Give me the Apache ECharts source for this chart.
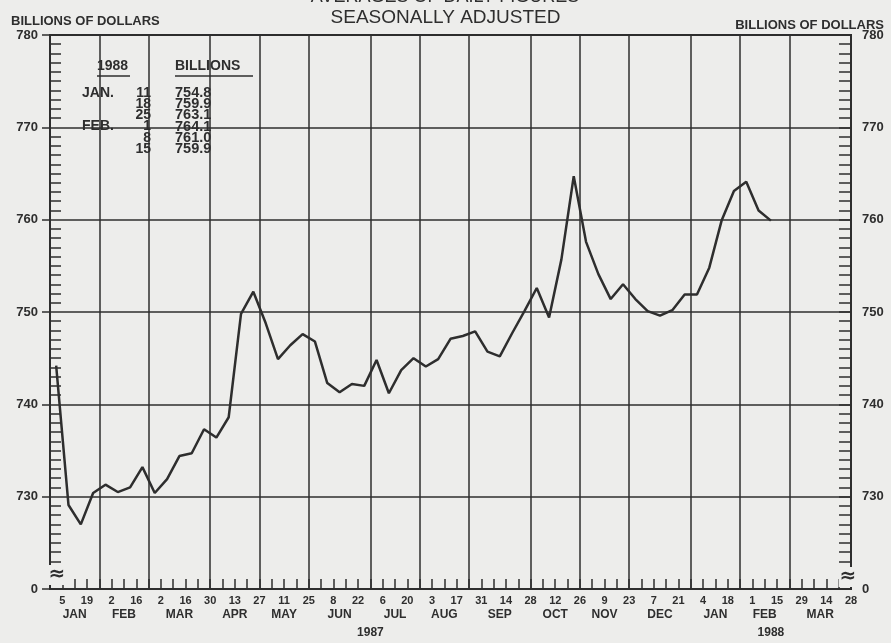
<!DOCTYPE html>
<html>
<head>
<meta charset="utf-8">
<title>Money stock M1</title>
<script src="https://cdn.jsdelivr.net/npm/echarts@6/dist/echarts.min.js"></script>
<style>
  html, body { margin: 0; padding: 0; background: #ededeb; }
  #chart { width: 891px; height: 643px; }
</style>
</head>
<body>
<div id="chart"></div>
<script>
// weekly M1, billions of dollars, week of Jan 5 1987 .. Feb 15 1988
var m1Values = [
	744.2, 729.1, 727.0, 730.4, 731.3, 730.5, 731.0, 733.2, 730.4, 731.9,
	734.4, 734.7, 737.3, 736.4, 738.6, 749.8, 752.2, 748.8, 744.9, 746.4,
	747.6, 746.8, 742.3, 741.3, 742.2, 742.0, 744.8, 741.2, 743.7, 745.0,
	744.1, 744.9, 747.1, 747.4, 747.9, 745.7, 745.2, 747.7, 750.1, 752.6,
	749.4, 755.7, 764.7, 757.6, 754.1, 751.4, 753.0, 751.4, 750.1, 749.6,
	750.2, 751.9, 751.9, 754.8, 759.9, 763.1, 764.1, 761.0, 759.9
];

// day labels on every other week (weeks 1,3,5..65 from Dec 29 1986)
var dayLabels = ['5','19','2','16','2','16','30','13','27','11','25','8','22','6','20','3','17',
	'31','14','28','12','26','9','23','7','21','4','18','1','15','29','14','28'];
var monthNames = ['JAN','FEB','MAR','APR','MAY','JUN','JUL','AUG','SEP','OCT','NOV','DEC','JAN','FEB','MAR'];
// month boundaries in weeks (4-4-5 pattern)
var periodBounds = [0, 4, 8, 13, 17, 21, 26, 30, 34, 39, 43, 47, 52, 56, 60, 65];
var yearNames = ['1987', '1988'];
var yearWeeks = [26, 58.5];

// inset table
var tableMonths = ['JAN.', '', '', 'FEB.', '', ''];
var tableDays = ['11', '18', '25', '1', '8', '15'];
var tableValues = ['754.8', '759.9', '763.1', '764.1', '761.0', '759.9'];

var ink = '#2e2e2e';
var paper = '#ededeb';
var font = 'Liberation Sans';

var myChart = echarts.init(document.getElementById('chart'));

var lineData = [];
for (var i = 0; i < m1Values.length; i++) {
	lineData.push([i + 0.5, m1Values[i]]);
}

var monthAt = {};
for (var i = 0; i < monthNames.length; i++) {
	monthAt[(periodBounds[i] + periodBounds[i + 1]) / 2] = monthNames[i];
}

var boundLines = [];
for (var i = 1; i < periodBounds.length - 1; i++) {
	boundLines.push({ xAxis: periodBounds[i] });
}

function txt(x, y, s, size, align, weight) {
	return {
		type: 'text', x: x, y: y,
		style: {
			text: s, fontSize: size, fontWeight: weight || 'bold', fontFamily: font,
			fill: ink, align: align || 'left', verticalAlign: 'middle'
		}
	};
}

// table text
var tableEls = [
	{ type: 'rect', shape: { x: 74, y: 52, width: 184, height: 103 }, style: { fill: paper } },
	txt(97, 66, '1988', 14),
	{ type: 'line', shape: { x1: 97, y1: 76, x2: 130, y2: 76 }, style: { stroke: ink, lineWidth: 1.5 } },
	txt(175, 66, 'BILLIONS', 14),
	{ type: 'line', shape: { x1: 175, y1: 76, x2: 253, y2: 76 }, style: { stroke: ink, lineWidth: 1.5 } }
];
for (var i = 0; i < tableDays.length; i++) {
	var ty = 93 + i * 11.2;
	tableEls.push(txt(82, ty, tableMonths[i], 14));
	tableEls.push(txt(151, ty, tableDays[i], 14, 'right'));
	tableEls.push(txt(175, ty, tableValues[i], 14.5));
}

// axis break marks
function breakMark(x, y) {
	return {
		type: 'text', x: x, y: y, z: 100,
		style: {
			text: '\u2248', fontSize: 20, fontWeight: 'bold', fontFamily: 'DejaVu Sans',
			fill: ink, align: 'center', verticalAlign: 'middle',
			backgroundColor: paper, padding: [0, 1]
		}
	};
}

var axisFont = { fontFamily: font, fontWeight: 'bold', color: ink };

option = {
	backgroundColor: paper,
	animation: false,
	title: [
		{ text: 'SEASONALLY ADJUSTED', left: 'center', top: 3,
			textStyle: { fontFamily: font, fontSize: 19, fontWeight: 'normal', color: ink } },
		{ text: 'BILLIONS OF DOLLARS', left: 6, top: 10,
			textStyle: { fontFamily: font, fontSize: 13, fontWeight: 'bold', color: ink } },
		{ text: 'BILLIONS OF DOLLARS', right: 2, top: 14,
			textStyle: { fontFamily: font, fontSize: 13, fontWeight: 'bold', color: ink } }
	],
	grid: {
		left: 50, right: 40, top: 35, bottom: 54,
		show: true, borderColor: ink, borderWidth: 2, backgroundColor: 'transparent'
	},
	xAxis: [
		{
			type: 'value', min: 0, max: 65, interval: 1, position: 'bottom',
			axisLine: { show: true, onZero: false, lineStyle: { color: ink, width: 2 } },
			axisTick: { show: true, inside: true, length: 10, lineStyle: { color: ink, width: 1.5 } },
			axisLabel: Object.assign({
				fontSize: 11, margin: 6,
				formatter: function(v) {
					return (v % 2 === 1) ? dayLabels[(v - 1) / 2] : '';
				}
			}, axisFont),
			splitLine: { show: false }
		},
		{
			type: 'value', min: 0, max: 65, interval: 0.5, position: 'bottom',
			axisLine: { show: false }, axisTick: { show: false }, splitLine: { show: false },
			axisLabel: Object.assign({
				fontSize: 12, margin: 20,
				formatter: function(v) { return monthAt[v] || ''; }
			}, axisFont)
		},
		{
			type: 'value', min: 0, max: 65, interval: 0.5, position: 'bottom',
			axisLine: { show: false }, axisTick: { show: false }, splitLine: { show: false },
			axisLabel: Object.assign({
				fontSize: 12, margin: 38,
				formatter: function(v) {
					var k = yearWeeks.indexOf(v);
					return k >= 0 ? yearNames[k] : '';
				}
			}, axisFont)
		}
	],
	yAxis: [
		{
			type: 'value', min: 720, max: 780, interval: 10, position: 'left',
			axisLine: { show: true, onZero: false, lineStyle: { color: ink, width: 2 } },
			axisTick: { show: true, inside: false, length: 8, lineStyle: { color: ink, width: 1.5 } },
			axisLabel: Object.assign({
				fontSize: 13, margin: 12,
				formatter: function(v) { return v === 720 ? '0' : v; }
			}, axisFont),
			splitLine: { show: true, lineStyle: { color: ink, width: 1.5 } }
		},
		{
			type: 'value', min: 720, max: 780, interval: 10, position: 'left',
			axisLine: { show: false }, axisLabel: { show: false }, splitLine: { show: false },
			axisTick: { show: false, inside: true },
			minorTick: { show: true, splitNumber: 10, length: 11, lineStyle: { color: ink, width: 1.5 } }
		},
		{
			type: 'value', min: 720, max: 780, interval: 10, position: 'right',
			axisLine: { show: true, onZero: false, lineStyle: { color: ink, width: 2 } },
			axisTick: { show: true, inside: true, length: 12, lineStyle: { color: ink, width: 1.5 } },
			minorTick: { show: true, splitNumber: 10, length: 12, lineStyle: { color: ink, width: 1.5 } },
			axisLabel: Object.assign({
				fontSize: 13, margin: 11,
				formatter: function(v) { return v === 720 ? '0' : v; }
			}, axisFont),
			splitLine: { show: false }
		}
	],
	series: [
		{
			type: 'line',
			data: lineData,
			xAxisIndex: 0,
			yAxisIndex: 0,
			symbol: 'none',
			lineStyle: { color: ink, width: 2.5 },
			z: 3,
			markLine: {
				silent: true,
				symbol: ['none', 'none'],
				label: { show: false },
				lineStyle: { color: ink, width: 1.5, type: 'solid' },
				data: boundLines
			}
		}
	],
	graphic: [
		// top title line, cut off by the page edge as in the scan
		{ type: 'text', x: 445, y: -12, z: 100,
			style: { text: 'AVERAGES OF DAILY FIGURES', fontSize: 18, fontFamily: font,
				fill: ink, align: 'center', verticalAlign: 'top' } },
		{ type: 'group', z: 100, children: tableEls },
		breakMark(57, 575),
		breakMark(848, 577)
	]
};

myChart.setOption(option);
</script>
</body>
</html>
